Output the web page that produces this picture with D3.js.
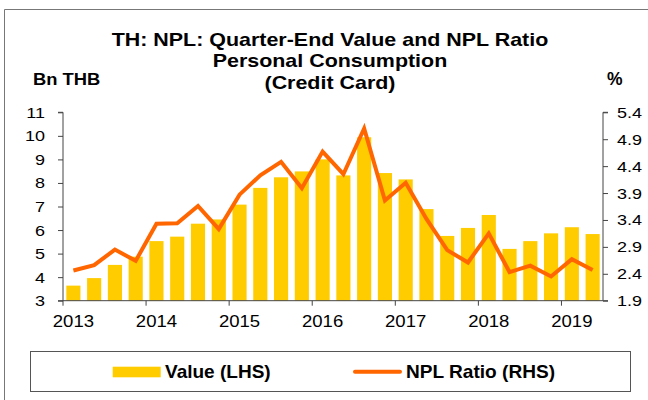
<!DOCTYPE html>
<html><head><meta charset="utf-8">
<script src="https://cdn.jsdelivr.net/npm/d3@7/dist/d3.min.js"></script>
<style>body{margin:0;background:#fff}svg{display:block;font-family:"Liberation Sans",Arial,sans-serif}</style>
</head><body><svg id="c" width="648" height="400"></svg>
<script>
const quarters = ["2013Q1","2013Q2","2013Q3","2013Q4","2014Q1","2014Q2","2014Q3","2014Q4","2015Q1","2015Q2","2015Q3","2015Q4","2016Q1","2016Q2","2016Q3","2016Q4","2017Q1","2017Q2","2017Q3","2017Q4","2018Q1","2018Q2","2018Q3","2018Q4","2019Q1","2019Q2"];
const valueLHS = [3.64,3.96,4.52,4.87,5.53,5.72,6.27,6.45,7.08,7.79,8.24,8.49,9.0,8.32,9.94,8.42,8.15,6.89,5.75,6.09,6.64,5.2,5.53,5.86,6.12,5.83];
const nplRatio = [2.46,2.56,2.85,2.64,3.33,3.34,3.66,3.23,3.87,4.23,4.48,3.99,4.67,4.25,5.10,3.76,4.09,3.42,2.84,2.61,3.15,2.43,2.55,2.35,2.67,2.47];
const leftTicks = [3,4,5,6,7,8,9,10,11];
const rightTicks = [1.9,2.4,2.9,3.4,3.9,4.4,4.9,5.4];
const yearLabels = ["2013","2014","2015","2016","2017","2018","2019"];
const titleLines = ["TH: NPL: Quarter-End Value and NPL Ratio","Personal Consumption","(Credit Card)"];

const svg = d3.select("#c");
const L = 63, R = 603, T = 112.3, B = 300.7;
const x = d3.scaleBand().domain(quarters).range([L, R]).paddingInner(0.32).paddingOuter(0.16);
const yL = d3.scaleLinear().domain([3, 11]).range([B, T]);
const yR = d3.scaleLinear().domain([1.9, 5.4]).range([B, T]);

// stretch helper: keep text but widen/narrow it horizontally
function stretch(sel, k) {
  sel.each(function(){ const w = this.getComputedTextLength(); this.setAttribute("textLength", w*k); this.setAttribute("lengthAdjust","spacingAndGlyphs"); });
}

// frame
svg.append("path").attr("d", "M4.5,400 V9.5 H648").attr("fill","none").attr("stroke","#777").attr("stroke-width",1);

// title
const tg = svg.append("g").attr("font-weight","bold").attr("font-size",19).attr("text-anchor","middle").attr("fill","#000");
const tt = tg.selectAll("text").data(titleLines).join("text").attr("x",330).attr("y",(d,i)=>45.7+i*21.4).text(d=>d);
const kT = 436.6 / tt.node().getComputedTextLength();
stretch(tt, kT);
const bn = svg.append("text").attr("x",33).attr("y",85).attr("font-weight","bold").attr("font-size",16.3).text("Bn THB");
stretch(bn, kT);
svg.append("text").attr("x",607).attr("y",85).attr("font-weight","bold").attr("font-size",17.5).text("%");

// bars
svg.append("g").selectAll("rect").data(quarters).join("rect")
  .attr("x", d=>x(d)).attr("width", x.bandwidth())
  .attr("y", (d,i)=>yL(valueLHS[i])).attr("height", (d,i)=>B - yL(valueLHS[i]))
  .attr("fill","#FFCC00");

// axes
const axL = svg.append("g").attr("transform",`translate(${L},0)`)
  .call(d3.axisLeft(yL).tickValues(leftTicks).tickSize(5).tickPadding(13).tickFormat(d3.format("d")));
const axR = svg.append("g").attr("transform",`translate(${R},0)`)
  .call(d3.axisRight(yR).tickValues(rightTicks).tickSize(5).tickPadding(9).tickFormat(d3.format(".1f")));
[axL,axR].forEach(a=>{a.select(".domain").attr("stroke","#444");a.selectAll(".tick line").attr("stroke","#444");
  a.selectAll("text").attr("font-size",15.5).attr("fill","#000").attr("font-family","Liberation Sans, Arial, sans-serif");
  stretch(a.selectAll("text"), 1.16);});
axL.select(".domain").attr("d",`M-5,${T}H0V${B}H-5`);
axR.select(".domain").attr("d",`M5,${T}H0V${B}H5`);

// x axis with year ticks at band starts
const yearPos = yearLabels.map(y => x(y+"Q1") - x.step()*x.paddingOuter());
const xaxis = svg.append("g");
xaxis.append("line").attr("x1",L).attr("x2",R).attr("y1",B).attr("y2",B).attr("stroke","#444");
xaxis.selectAll("line.t").data(yearLabels).join("line").attr("class","t")
  .attr("x1",(d,i)=>yearPos[i]).attr("x2",(d,i)=>yearPos[i]).attr("y1",B).attr("y2",B+5).attr("stroke","#444");
const xl = xaxis.selectAll("text").data(yearLabels).join("text")
  .attr("x",(d,i)=>yearPos[i] + x.step()/2).attr("y",327.3).attr("text-anchor","middle").attr("font-size",17).text(d=>d);
stretch(xl, 1.09);

// line
svg.append("path").datum(nplRatio)
  .attr("d", d3.line().x((d,i)=>x(quarters[i])+x.bandwidth()/2).y(d=>yR(d)))
  .attr("fill","none").attr("stroke","#FF6600").attr("stroke-width",4).attr("stroke-linejoin","miter");

// legend
const lg = svg.append("g");
lg.append("rect").attr("x",30.5).attr("y",351.5).attr("width",600).attr("height",40).attr("fill","#fff").attr("stroke","#555");
lg.append("rect").attr("x",112.7).attr("y",366.7).attr("width",48).attr("height",10.6).attr("fill","#FFCC00");
const t1 = lg.append("text").attr("x",165).attr("y",378.3).attr("font-weight","bold").attr("font-size",18.5).text("Value (LHS)");
t1.attr("textLength",105.7).attr("lengthAdjust","spacingAndGlyphs");
lg.append("line").attr("x1",355).attr("x2",400).attr("y1",371.7).attr("y2",371.7).attr("stroke","#FF6600").attr("stroke-width",4).attr("stroke-linecap","round");
const t2 = lg.append("text").attr("x",406).attr("y",378.3).attr("font-weight","bold").attr("font-size",18.5).text("NPL Ratio (RHS)");
t2.attr("textLength",149).attr("lengthAdjust","spacingAndGlyphs");
</script></body></html>
